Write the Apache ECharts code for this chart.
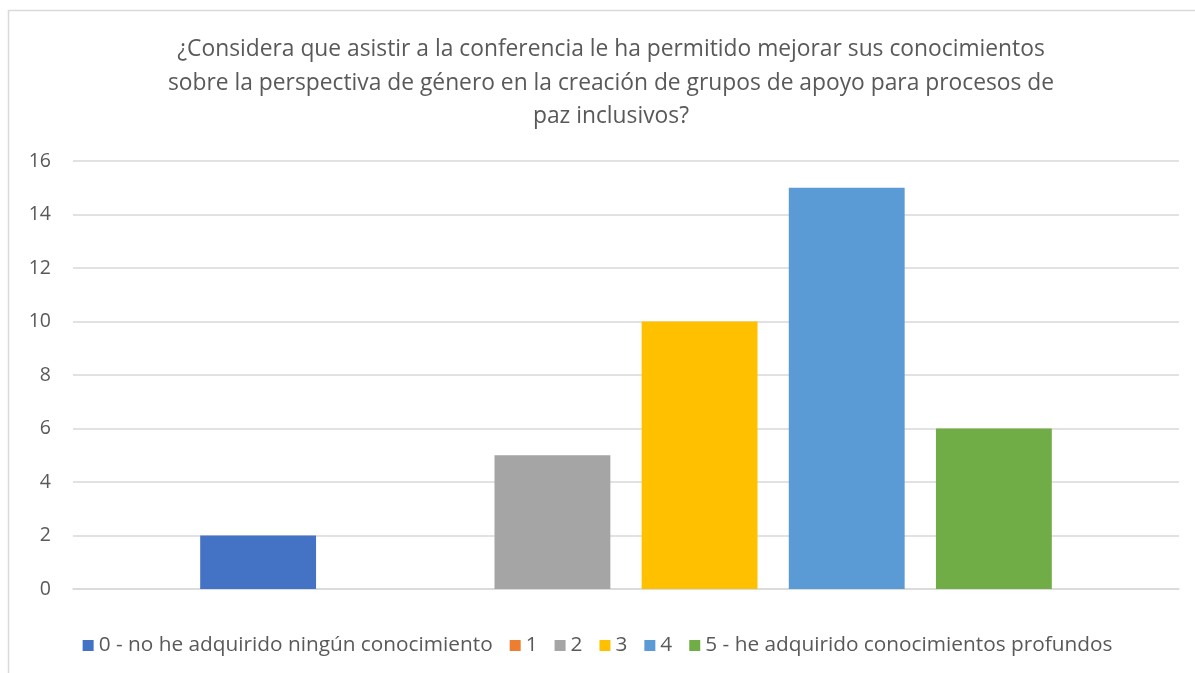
<!DOCTYPE html>
<html>
<head>
<meta charset="utf-8">
<script src="https://cdn.jsdelivr.net/npm/echarts@6/dist/echarts.min.js"></script>
<style>
  html, body { margin: 0; padding: 0; background: #fff; }
  #chart { width: 1195px; height: 673px; }
</style>
</head>
<body>
<div id="chart"></div>
<script>
// one category, each answer is its own series
var categories = [""];
var seriesNames = [
    "0 - no he adquirido ningún conocimiento",
    "1",
    "2",
    "3",
    "4",
    "5 - he adquirido conocimientos profundos"
];
var seriesValues = [2, 0, 5, 10, 15, 6];
var seriesColors = ["#4472C4", "#ED7D31", "#A5A5A5", "#FFC000", "#5B9BD5", "#70AD47"];
var titleText = "¿Considera que asistir a la conferencia le ha permitido mejorar sus conocimientos\n" +
    "sobre la perspectiva de género en la creación de grupos de apoyo para procesos de\n" +
    "paz inclusivos?";

var fontFamily = "'Open Sans', sans-serif";
var textColor = "#595959";

var series = seriesNames.map(function (name, i) {
    return {
        name: name,
        type: "bar",
        data: [seriesValues[i]],
        itemStyle: { color: seriesColors[i] },
        barGap: "27%",
        barCategoryGap: "23%"
    };
});

var chart = echarts.init(document.getElementById("chart"));
chart.setOption({
    backgroundColor: "#fff",
    animation: false,
    color: seriesColors,
    graphic: [{
        type: "rect",
        shape: { x: 8.5, y: 10.5, width: 1300, height: 800 },
        style: { fill: null, stroke: "#d9d9d9", lineWidth: 1.5 },
        silent: true
    }],
    title: {
        text: titleText,
        left: 606,
        textAlign: "center",
        top: 28,
        textStyle: {
            fontFamily: fontFamily,
            fontSize: 22.8,
            fontWeight: "normal",
            color: textColor,
            lineHeight: 33.5
        }
    },
    legend: {
        bottom: 12,
        left: "center",
        itemWidth: 11,
        itemHeight: 11,
        itemGap: 17,
        icon: "rect",
        textStyle: {
            fontFamily: fontFamily,
            fontSize: 20.8,
            color: textColor
        },
        data: seriesNames
    },
    grid: {
        left: 73,
        right: 16,
        top: 161,
        bottom: 84
    },
    xAxis: {
        type: "category",
        data: categories,
        axisLine: { lineStyle: { color: "#d9d9d9", width: 1.5 } },
        axisTick: { show: false },
        axisLabel: { show: false }
    },
    yAxis: {
        type: "value",
        min: 0,
        max: 16,
        interval: 2,
        axisLine: { show: false },
        axisTick: { show: false },
        axisLabel: {
            fontFamily: fontFamily,
            fontSize: 19.5,
            color: textColor,
            margin: 22
        },
        splitLine: { lineStyle: { color: "#d9d9d9", width: 1.5 } }
    },
    series: series
});
</script>
</body>
</html>
